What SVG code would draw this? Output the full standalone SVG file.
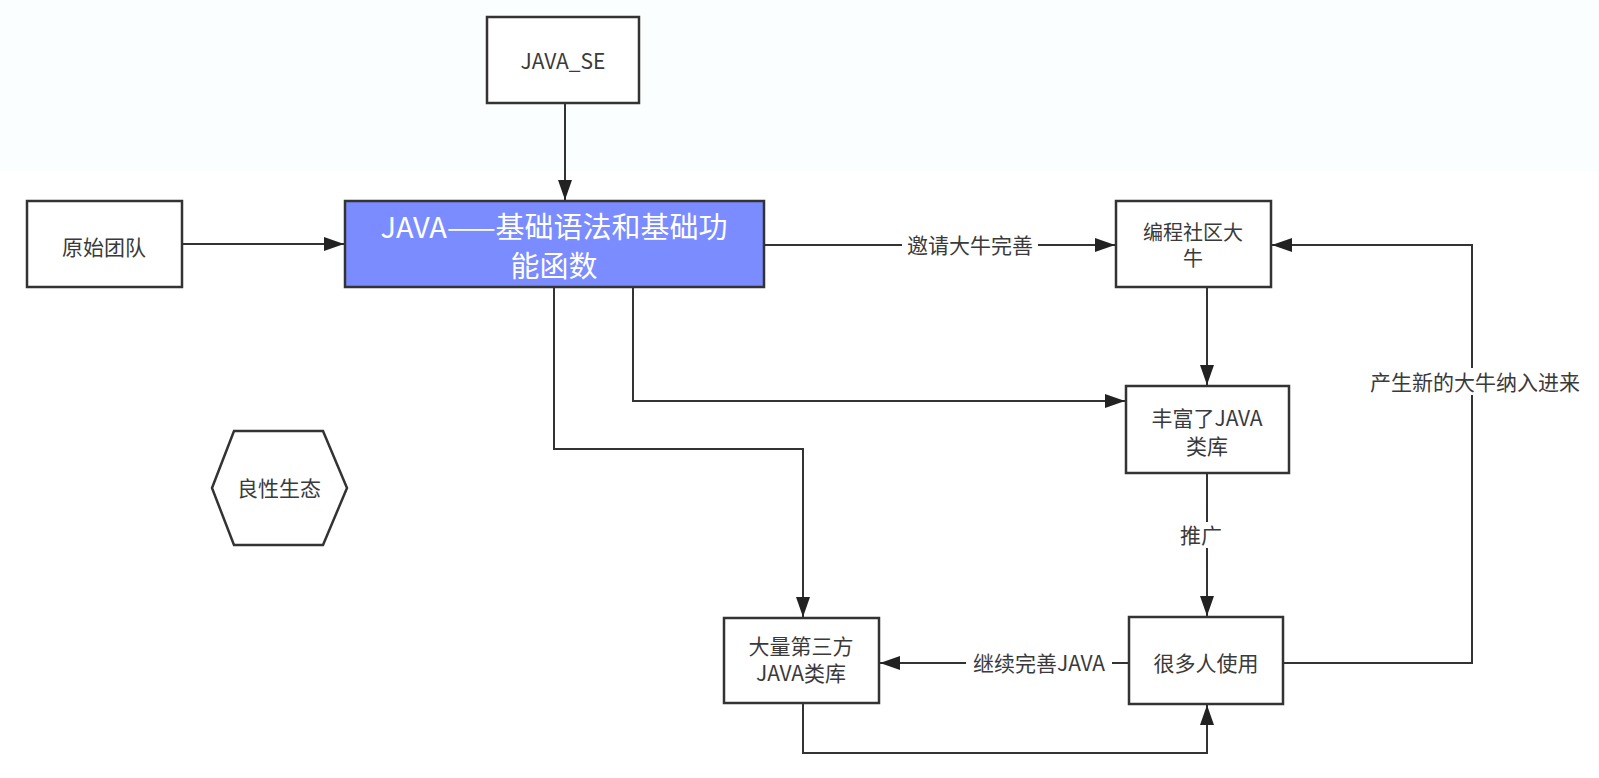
<svg xmlns="http://www.w3.org/2000/svg" width="1599" height="778" viewBox="0 0 1599 778">
<style>
.box{fill:#fff;stroke:#333;stroke-width:2.5}
.lbl{font-family:"Noto Sans CJK SC","Liberation Sans",sans-serif;font-size:21px;fill:#3a3a3a;text-anchor:middle}
.two{font-size:20px}
.big{font-family:"Noto Sans CJK SC","Liberation Sans",sans-serif;font-size:29px;fill:#fff;text-anchor:middle}
.edge{fill:none;stroke:#333;stroke-width:2}
.elbl{font-family:"Noto Sans CJK SC","Liberation Sans",sans-serif;font-size:21px;fill:#3a3a3a;text-anchor:middle}
</style>
<defs>
<marker id="arr" viewBox="0 0 20 14" refX="20" refY="7" markerWidth="20" markerHeight="14" markerUnits="userSpaceOnUse" orient="auto">
<path d="M0,0 L20,7 L0,14 Z" fill="#222"/>
</marker>
</defs>
<rect width="1599" height="778" fill="#fff"/>
<rect width="1599" height="171" fill="#fbfefe"/>
<g id="connectors">
<path class="edge" d="M565,103 V200" marker-end="url(#arr)"/>
<path class="edge" d="M182,244 H344" marker-end="url(#arr)"/>
<path class="edge" d="M764,245 H1115" marker-end="url(#arr)"/>
<path class="edge" d="M1207,287 V385" marker-end="url(#arr)"/>
<path class="edge" d="M633,287 V401 H1125" marker-end="url(#arr)"/>
<path class="edge" d="M554,287 V449 H803 V617" marker-end="url(#arr)"/>
<path class="edge" d="M1207,473 V616" marker-end="url(#arr)"/>
<path class="edge" d="M1129,663 H880" marker-end="url(#arr)"/>
<path class="edge" d="M803,703 V753 H1207 V705" marker-end="url(#arr)"/>
<path class="edge" d="M1283,663 H1472 V245 H1272" marker-end="url(#arr)"/>
<rect x="902" y="232" width="136" height="26" fill="#fff"/>
<text class="elbl" x="970" y="253">邀请大牛完善</text>
<rect x="1178" y="522" width="46" height="26" fill="#fff"/>
<text class="elbl" x="1201" y="543">推广</text>
<rect x="966" y="650" width="146" height="26" fill="#fff"/>
<text class="elbl" x="1039" y="671">继续完善JAVA</text>
<rect x="1366" y="368" width="218" height="27" fill="#fff"/>
<text class="elbl" x="1475" y="390">产生新的大牛纳入进来</text>
</g>
<g id="java_se">
<rect class="box" x="487" y="17" width="152" height="86"/>
<text class="lbl" x="563" y="69">JAVA_SE</text>
</g>
<g id="main">
<rect x="345" y="201" width="419" height="86" fill="#7a8cff" stroke="#333" stroke-width="2.5"/>
<text class="big" x="554" y="238">JAVA——基础语法和基础功</text>
<text class="big" x="554" y="277">能函数</text>
</g>
<g id="origin">
<rect class="box" x="27" y="201" width="155" height="86"/>
<text class="lbl" x="104" y="255">原始团队</text>
</g>
<g id="community">
<rect class="box" x="1116" y="201" width="155" height="86"/>
<text class="lbl two" x="1193" y="240">编程社区大</text>
<text class="lbl two" x="1193" y="266">牛</text>
</g>
<g id="rich">
<rect class="box" x="1126" y="386" width="163" height="87"/>
<text class="lbl" x="1207" y="426">丰富了JAVA</text>
<text class="lbl" x="1207" y="454">类库</text>
</g>
<g id="users">
<rect class="box" x="1129" y="617" width="154" height="87"/>
<text class="lbl" x="1206" y="671">很多人使用</text>
</g>
<g id="thirdparty">
<rect class="box" x="724" y="618" width="155" height="85"/>
<text class="lbl" x="801" y="654">大量第三方</text>
<text class="lbl" x="801" y="681">JAVA类库</text>
</g>
<g id="ecology">
<polygon class="box" points="212,488 234,431 323,431 347,488 323,545 234,545"/>
<text class="lbl" x="279" y="496">良性生态</text>
</g>
</svg>
